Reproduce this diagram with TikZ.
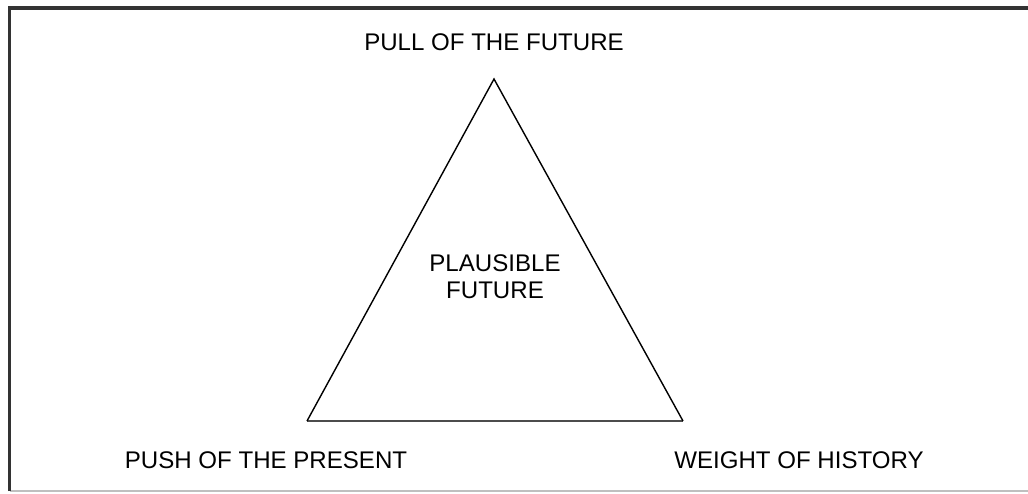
\documentclass[tikz,border=0pt]{standalone}
\usepackage{fontspec}
\setmainfont{Liberation Sans}
\usetikzlibrary{positioning}

\begin{document}
\begin{tikzpicture}[scale=1,
    lbl/.style={font=\fontsize{13.7pt}{15.4pt}\selectfont, inner sep=0pt, align=center}]
  \useasboundingbox (0,0) rectangle (20.56,9.86);

  % Define points
  \coordinate (P) at (9.88,8.28);  % apex
  \coordinate (L) at (6.14,1.44);  % bottom left
  \coordinate (R) at (13.66,1.44); % bottom right

  % Frame
  \draw[line width=1.1pt, black!25] (0.19,0.04) -- (20.56,0.04);
  \draw[line width=2pt, black!80] (0.19,0.04) -- (0.19,9.70) -- (20.56,9.70);

  % Draw triangle
  \draw[line width=0.8pt, black!70] (L) -- (R);
  \draw[line width=0.8pt, line join=miter] (R) -- (P) -- (L);

  % Label points
  \node[lbl] (pull) at (9.88,9.02) {PULL OF THE FUTURE};
  \node[lbl] (plausible) at (9.90,4.33) {PLAUSIBLE\\FUTURE};
  \node[lbl] (push) at (5.32,0.65) {PUSH OF THE PRESENT};
  \node[lbl] (weight) at (15.98,0.66) {WEIGHT OF HISTORY};

\end{tikzpicture}
\end{document}
